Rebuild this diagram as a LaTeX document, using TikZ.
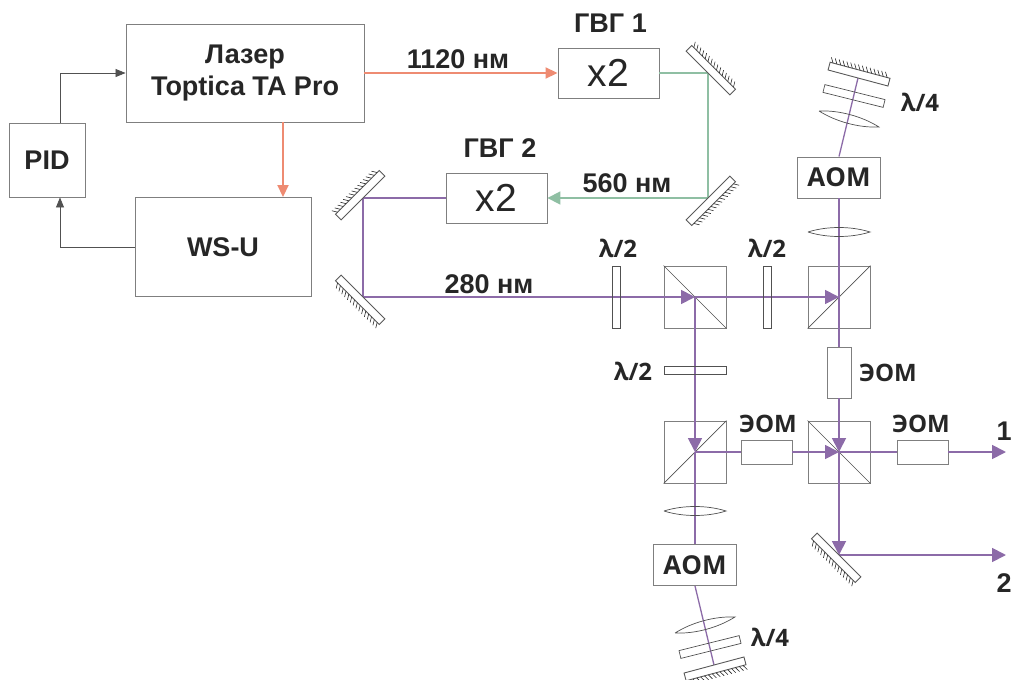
\documentclass[tikz,border=0pt]{standalone}
\usepackage{fontspec}
\setmainfont{Liberation Sans}
\newfontfamily\labelfont{Open Sans}
\usetikzlibrary{arrows.meta}
\definecolor{ink}{HTML}{262626}
\definecolor{edge}{HTML}{7F7F7F}
\definecolor{uvbeam}{HTML}{8C6BA8}
\definecolor{greenbeam}{HTML}{8FBFA3}
\definecolor{redbeam}{HTML}{EE8B72}
\tikzset{
  every node/.style={text=ink},
  box/.style={draw=edge,line width=0.9pt,fill=white,inner sep=0pt,align=center,font=\fontsize{27}{32}\selectfont\bfseries},
  doubler/.style={box,minimum width=101pt,minimum height=50pt,font=\fontsize{39}{39}\selectfont},
  aombox/.style={box,minimum width=83pt,minimum height=41pt,font=\labelfont\fontsize{26}{26}\selectfont\bfseries},
  eombox/.style={draw=edge,line width=0.9pt,fill=white,inner sep=0pt,minimum width=51pt,minimum height=24pt},
  cube/.style={draw=edge,line width=0.9pt,inner sep=0pt,minimum size=62pt},
  plate/.style={draw=ink!80,line width=0.7pt,inner sep=0pt,minimum width=62pt,minimum height=8pt},
  caption/.style={inner sep=0pt,font=\fontsize{27}{27}\selectfont\bfseries},
  optlabel/.style={inner sep=0pt,font=\labelfont\fontsize{24}{24}\selectfont\bfseries},
  beam/.style={draw=uvbeam,line width=1.8pt},
  beamarr/.style={beam,-{Triangle[length=14pt,width=14pt]}},
  thinbeam/.style={draw=uvbeam,line width=1.3pt},
  greenarr/.style={draw=greenbeam,line width=1.8pt},
  redarr/.style={draw=redbeam,line width=1.8pt,-{Triangle[length=12pt,width=11pt]}},
  signal/.style={draw=ink!80,line width=0.7pt,-{Triangle[length=10pt,width=8pt]}},
  split/.style={draw=ink!80,line width=0.7pt},
  mirrorpic/.pic={
    \draw[edge!70!black,line width=0.9pt,fill=white] (-31,0) rectangle (31,-8);
    \foreach \i in {-28,-24,...,30}
      \draw[ink,line width=0.6pt] (\i,-8) -- (\i-3,-13);
  },
  lenspic/.pic={
    \draw[ink!80,line width=0.7pt] (-31,0) .. controls (-12,-6) and (12,-6) .. (31,0)
      .. controls (12,6) and (-12,6) .. (-31,0);
  },
}
\begin{document}
\begin{tikzpicture}[x=1pt,y=-1pt]
\useasboundingbox (0,0) rectangle (1013,680);
% laser stage
\node[box,minimum width=238pt,minimum height=98pt] (laser) at (245,73) {Лазер\\Toptica TA Pro};
\node[box,minimum width=76pt,minimum height=74pt] (pid) at (47,160) {PID};
\node[box,minimum width=176pt,minimum height=99pt] (wsu) at (223,247) {WS-U};
\node[doubler] (shgA) at (608.5,73) {x2};
\node[doubler] (shgB) at (496.5,198) {x2};
\node[caption] (shgAlabel) at (610.5,23) {ГВГ 1};
\node[caption] (shgBlabel) at (500,148) {ГВГ 2};
\node[caption] (lineA) at (458,59) {1120 нм};
\node[caption] (lineB) at (627,183) {560 нм};
\node[caption] (lineC) at (489,284) {280 нм};
% turning points
\coordinate (mirA) at (708,73);
\coordinate (mirB) at (708,198);
\coordinate (mirC) at (363,198);
\coordinate (mirD) at (363,297);
\coordinate (mirE) at (839,555);
\coordinate (mirF) at (858,78);
\coordinate (mirG) at (714,665);
\coordinate (lensA) at (839,232);
\coordinate (lensB) at (849,119);
\coordinate (lensC) at (695,511);
\coordinate (lensD) at (705,625);
\coordinate (outA) at (1006,452);
\coordinate (outB) at (1006,555);
% splitters
\node[cube] (cubeA) at (695,297) {};
\node[cube] (cubeB) at (839,297) {};
\node[cube] (cubeC) at (695,452) {};
\node[cube] (cubeD) at (839,452) {};
\draw[split] (cubeA.north west) -- (cubeA.south east);
\draw[split] (cubeB.south west) -- (cubeB.north east);
\draw[split] (cubeC.south west) -- (cubeC.north east);
\draw[split] (cubeD.north west) -- (cubeD.south east);
% modulators
\node[aombox] (aomA) at (839,177.5) {АОМ};
\node[aombox] (aomB) at (695,565) {АОМ};
\node[eombox,rotate=90] (eomA) at (839,372.5) {};
\node[eombox] (eomB) at (766.5,452) {};
\node[eombox] (eomC) at (922.5,452) {};
\node[optlabel] (eomAlabel) at (888,373) {ЭОМ};
\node[optlabel] (eomBlabel) at (768,424) {ЭОМ};
\node[optlabel] (eomClabel) at (921,424) {ЭОМ};
% beams
\draw[redarr] (laser.east) -- (shgA.west);
\draw[redarr] ([xshift=38pt]laser.south) -- ([xshift=60pt]wsu.north);
\draw[greenarr] (shgA.east) -- (mirA) -- (mirB);
\draw[greenarr,-{Triangle[length=13pt,width=13pt]}] (mirB) -- (shgB.east);
\draw[beam,line width=1.5pt] (shgB.west) -- (mirC) -- (mirD);
\draw[beamarr] (mirD) -- (cubeA.center);
\draw[beamarr] (cubeA.center) -- (cubeB.center);
\draw[beamarr] (cubeA.center) -- (cubeC.center);
\draw[beam] (aomA.south) -- (cubeB.center);
\draw[beam] (cubeB.center) -- (eomA.east);
\draw[beam] (cubeC.center) -- (eomB.west);
\draw[beamarr] (eomB.east) -- (cubeD.center);
\draw[beamarr] (eomA.west) -- (cubeD.center);
\draw[beam] (cubeD.center) -- (eomC.west);
\draw[beamarr] (eomC.east) -- (outA);
\draw[beamarr] (cubeD.center) -- (mirE);
\draw[beamarr] (mirE) -- (outB);
\draw[beam] (cubeC.center) -- (aomB.north);
\draw[thinbeam] (aomA.north) -- (mirF);
\draw[thinbeam] (aomB.south) -- (mirG);
\draw[signal] ([xshift=13pt]pid.north) |- (laser.west);
\draw[signal] (wsu.west) -| ([xshift=13pt]pid.south);
% mirrors
\path (mirA) pic[rotate=-45] {mirrorpic};
\path (mirB) pic[rotate=225] {mirrorpic};
\path (mirC) pic[rotate=45] {mirrorpic};
\path (mirD) pic[rotate=135] {mirrorpic};
\path (mirE) pic[rotate=135] {mirrorpic};
\path (mirF) pic[rotate=-15] {mirrorpic};
\path (mirG) pic[rotate=195] {mirrorpic};
% lenses and plates
\path (lensA) pic {lenspic};
\path (lensB) pic[rotate=-15] {lenspic};
\path (lensC) pic {lenspic};
\path (lensD) pic[rotate=15] {lenspic};
\node[plate,rotate=90] (plateA) at (616,297) {};
\node[plate,rotate=90] (plateB) at (767,297) {};
\node[plate] (plateC) at (695,370.5) {};
\node[plate,rotate=-14] (plateD) at (854,96) {};
\node[plate,rotate=14] (plateE) at (710,647) {};
\node[optlabel] (plateAlabel) at (618,248) {λ/2};
\node[optlabel] (plateBlabel) at (767,248) {λ/2};
\node[optlabel] (plateClabel) at (633,371) {λ/2};
\node[optlabel] (plateDlabel) at (920,102) {λ/4};
\node[optlabel] (plateElabel) at (770,637) {λ/4};
\node[caption] (outAlabel) at (1004,431) {1};
\node[caption] (outBlabel) at (1004,583) {2};
\end{tikzpicture}
\end{document}
